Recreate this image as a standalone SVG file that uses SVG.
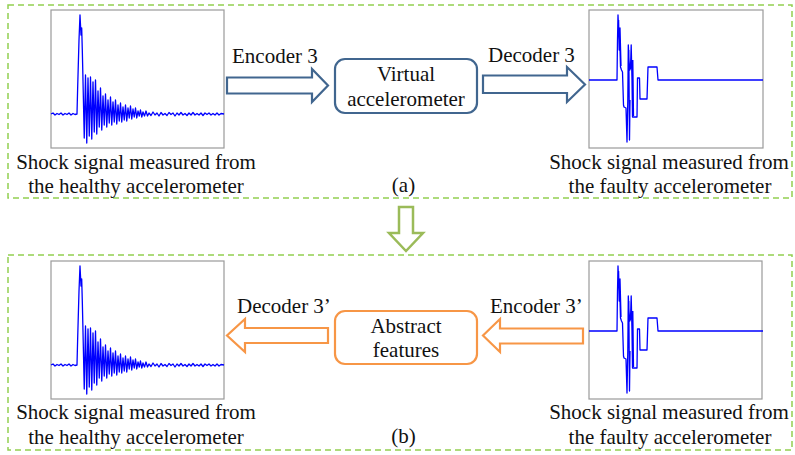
<svg xmlns="http://www.w3.org/2000/svg" xmlns:xlink="http://www.w3.org/1999/xlink" width="795" height="455" viewBox="0 0 795 455">
<style>
  .frame { fill: #ffffff; stroke: #9a9a9a; stroke-width: 1.2; }
  .sig { fill: none; stroke: #0000ff; stroke-width: 1.3; stroke-linejoin: round; }
  .dash { fill: none; stroke: #92d050; stroke-width: 1.5; stroke-dasharray: 6 4; }
  .t { font-family: "Liberation Serif", "Times New Roman", serif; font-size: 21px; fill: #111111; }
  .c { text-anchor: middle; }
  .blue { fill: #ffffff; stroke: #41668f; stroke-width: 2.2; }
  .orange { fill: #ffffff; stroke: #f79646; stroke-width: 2.2; }
  .green { fill: #ffffff; stroke: #9bbb59; stroke-width: 2.5; }
</style>
<defs>
  <path id="healthy" class="sig" d="M51,114 L53,113 L55,115 L57,113.5 L59,114.5 L61,113 L63,115 L65,113.5 L67,114.5 L69,113 L71,115 L73,113.5 L75,114.5 L77,114 L77.6,90 L79,40 L80,15 L81,35 L81.7,28 L82.3,50 L82.8,72 L84.25,138 L85.5,75 L86.75,143 L88,78 L89.25,136 L90.5,77 L91.75,139 L93,82 L94.25,132 L95.5,80 L96.75,134 L98,91 L99.25,127 L100.5,88 L101.75,130 L103,96 L104.25,125 L105.5,94 L106.75,127 L108,100 L109.25,123 L110.5,97 L111.75,125 L113,102 L114.25,122 L115.5,100 L116.75,124 L118,105 L119.25,121 L120.5,103 L121.75,122 L123,107 L124.25,120 L125.5,105 L126.75,121 L128,108 L129.25,118 L130.5,106 L131.75,119 L133,109 L134.25,117 L135.5,108 L136.75,118 L138,111 L139.25,116 L140.5,110 L141.75,117 L143,112 L144.5,116 L146,111 L147.5,116 L149,113 L151,115.5 L153,112 L155,115 L157,113 L159,116 L161,112.5 L163,115 L165,113.5 L167,115.5 L169,112.5 L171,114.5 L173,113 L175,116 L177,113 L179,115 L181,112.5 L183,115 L185,113.5 L187,115.5 L189,113 L191,115 L193,112.5 L195,115 L197,113.5 L199,115 L201,113 L203,115.5 L205,113 L207,114.5 L209,113 L211,115 L213,113.5 L215,115 L217,113 L219,115 L221,113.5 L224,114"/>
  <path id="faulty" class="sig" d="M589,80 L617,80 L617.5,40 L618,15 L619,40 L619.5,30 L620.5,67 L621.5,70 L622.5,72 L623.5,105 L624,107 L626,108 L626.5,125 L627,142 L627.8,100 L628.3,45 L629,60 L629.8,70 L630.5,68 L631.2,45 L632,80 L632.5,117 L637,117 L637.5,78 L639.5,78 L640,99 L647,99 L648,67 L657,67 L658,80 L763,80 M618.6,20 L619.2,50 L620,28 L621,66 M628.8,50 L629.5,140 L630,100 M632.8,60 L633.5,116"/>
</defs>

<g id="panel-a">
  <rect class="dash" x="8" y="5" width="784" height="193"/>
  <text class="t c" x="403.5" y="192">(a)</text>
</g>
<g id="panel-b">
  <rect class="dash" x="8" y="255" width="784" height="195"/>
  <text class="t c" x="403.5" y="443">(b)</text>
</g>

<g id="healthy-signal-a">
  <rect class="frame" x="51" y="10" width="173" height="138"/>
  <use xlink:href="#healthy" href="#healthy"/>
  <text class="t c" x="136" y="169">Shock signal measured from</text>
  <text class="t c" x="136" y="193">the healthy accelerometer</text>
</g>

<g id="virtual-accelerometer">
  <rect class="blue" x="335" y="59" width="142" height="54" rx="10" ry="10"/>
  <text class="t c" x="406" y="81">Virtual</text>
  <text class="t c" x="406" y="106">accelerometer</text>
</g>

<g id="faulty-signal-a">
  <rect class="frame" x="589" y="10" width="174" height="138"/>
  <use xlink:href="#faulty" href="#faulty"/>
  <text class="t c" x="669" y="169">Shock signal measured from</text>
  <text class="t c" x="670" y="193">the faulty accelerometer</text>
</g>

<g id="healthy-signal-b">
  <rect class="frame" x="51" y="261" width="173" height="138"/>
  <use xlink:href="#healthy" href="#healthy" transform="translate(0,251)"/>
  <text class="t c" x="136" y="419">Shock signal measured from</text>
  <text class="t c" x="136" y="444">the healthy accelerometer</text>
</g>

<g id="abstract-features">
  <rect class="orange" x="335" y="311" width="142" height="53" rx="10" ry="10"/>
  <text class="t c" x="406" y="333">Abstract</text>
  <text class="t c" x="406" y="357">features</text>
</g>

<g id="faulty-signal-b">
  <rect class="frame" x="589" y="261" width="173" height="138"/>
  <use xlink:href="#faulty" href="#faulty" transform="translate(0,251)"/>
  <text class="t c" x="669" y="419">Shock signal measured from</text>
  <text class="t c" x="670" y="444">the faulty accelerometer</text>
</g>

<g id="connectors">
  <polygon class="blue" points="227,77.5 312,77.5 312,69 328,85.5 312,102 312,93.5 227,93.5"/>
  <text class="t" x="232" y="63">Encoder 3</text>
  <polygon class="blue" points="483,75.5 567,75.5 567,67 585,84.5 567,102 567,93 483,93"/>
  <text class="t" x="488" y="62">Decoder 3</text>
  <polygon class="green" points="399,207 413,207 413,233 423,233 406,251 389,233 399,233"/>
  <polygon class="orange" points="328,328 245,328 245,319 227,335.5 245,352 245,343 328,343"/>
  <text class="t" x="237" y="313">Decoder 3’</text>
  <polygon class="orange" points="583,328.5 500,328.5 500,319 483,335.5 500,352 500,343.5 583,343.5"/>
  <text class="t" x="490" y="313">Encoder 3’</text>
</g>
</svg>
